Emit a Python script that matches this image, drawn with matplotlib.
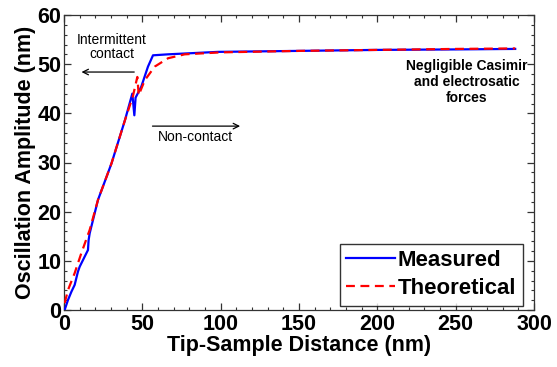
import matplotlib
matplotlib.use("Agg")
import matplotlib.pyplot as plt
from matplotlib.ticker import MultipleLocator

plt.rcParams['font.family'] = ['Liberation Sans', 'DejaVu Sans']

# Data
measured_x = [0.4, 2.5, 4.7, 6.8, 8.9, 10.0, 14.2, 15.3, 15.7, 16.4, 21.7, 30.3, 38.9,
              43.6, 44.9, 45.7, 49.3, 53.6, 56.8, 66.4, 98.3, 150, 200, 250, 288]
measured_y = [0.0, 2.0, 3.7, 5.1, 7.8, 8.8, 11.5, 12.2, 14.2, 15.6, 22.4, 29.8, 38.6,
              44.0, 39.6, 43.2, 45.4, 49.5, 51.8, 52.0, 52.5, 52.7, 52.9, 53.0, 53.1]

theory_x = [0.4, 2.6, 6.8, 11.0, 16.4, 21.7, 30.3, 38.9, 44.0, 46.8, 47.7, 51.5, 57.9,
            66.4, 77.0, 100, 150, 200, 250, 288]
theory_y = [1.4, 4.1, 7.5, 11.5, 16.3, 22.4, 29.8, 38.6, 43.5, 47.4, 43.7, 46.7, 49.5,
            51.2, 52.0, 52.4, 52.7, 52.9, 53.1, 53.2]

series_labels = ["Measured", "Theoretical"]
x_label = "Tip-Sample Distance (nm)"
y_label = "Oscillation Amplitude (nm)"

W, H = 557, 367
fig = plt.figure(figsize=(W / 100, H / 100), dpi=100)
ax = fig.add_axes([64 / W, 1 - 310 / H, 470 / W, 295 / H])

ax.plot(measured_x, measured_y, color='#0000ff', lw=1.6, label=series_labels[0], zorder=3)
ax.plot(theory_x, theory_y, color='#ff0000', lw=1.6, ls=(0, (4, 2.5)), label=series_labels[1], zorder=4)

ax.set_xlim(0, 300)
ax.set_ylim(0, 60)
ax.xaxis.set_major_locator(MultipleLocator(50))
ax.xaxis.set_minor_locator(MultipleLocator(10))
ax.yaxis.set_major_locator(MultipleLocator(10))
ax.yaxis.set_minor_locator(MultipleLocator(2))
ax.tick_params(which='both', direction='in', top=True, right=True, color='#333333')
ax.tick_params(which='major', length=5, width=0.9, labelsize=15.5, pad=3)
ax.tick_params(axis='y', which='major', pad=2)
ax.tick_params(which='minor', length=2.5, width=0.8)
for lab in ax.get_xticklabels() + ax.get_yticklabels():
    lab.set_fontweight('bold')
for s in ax.spines.values():
    s.set_color('#333333')
    s.set_linewidth(0.9)

ax.set_xlabel(x_label, fontsize=15.5, fontweight='bold', labelpad=0)
ax.set_ylabel(y_label, fontsize=15.5, fontweight='bold', labelpad=1)

leg = ax.legend(loc='lower right', prop={'weight': 'bold', 'size': 16},
                frameon=True, fancybox=False, edgecolor='black', handlelength=2.2,
                handletextpad=0.1, borderpad=0.3, labelspacing=0.3,
                borderaxespad=0.2, bbox_to_anchor=(0.985, 0.0))
leg.get_frame().set_linewidth(1.0)

# Annotations
ax.text(30.5, 53.5, "Intermittent\ncontact", ha='center', va='center', fontsize=10,
        linespacing=1.05)
ax.annotate("", xy=(9.4, 48.4), xytext=(46.6, 48.4),
            arrowprops=dict(arrowstyle='->', color='black', lw=0.9))
ax.annotate("", xy=(114.2, 37.4), xytext=(54.7, 37.4),
            arrowprops=dict(arrowstyle='->', color='black', lw=0.9))
ax.text(84, 35.2, "Non-contact", ha='center', va='center', fontsize=10)
ax.text(257, 46.4, "Negligible Casimir\nand electrosatic\nforces", ha='center',
        va='center', fontsize=10, fontweight='bold', linespacing=1.15)

fig.savefig("out.png", dpi=100)
